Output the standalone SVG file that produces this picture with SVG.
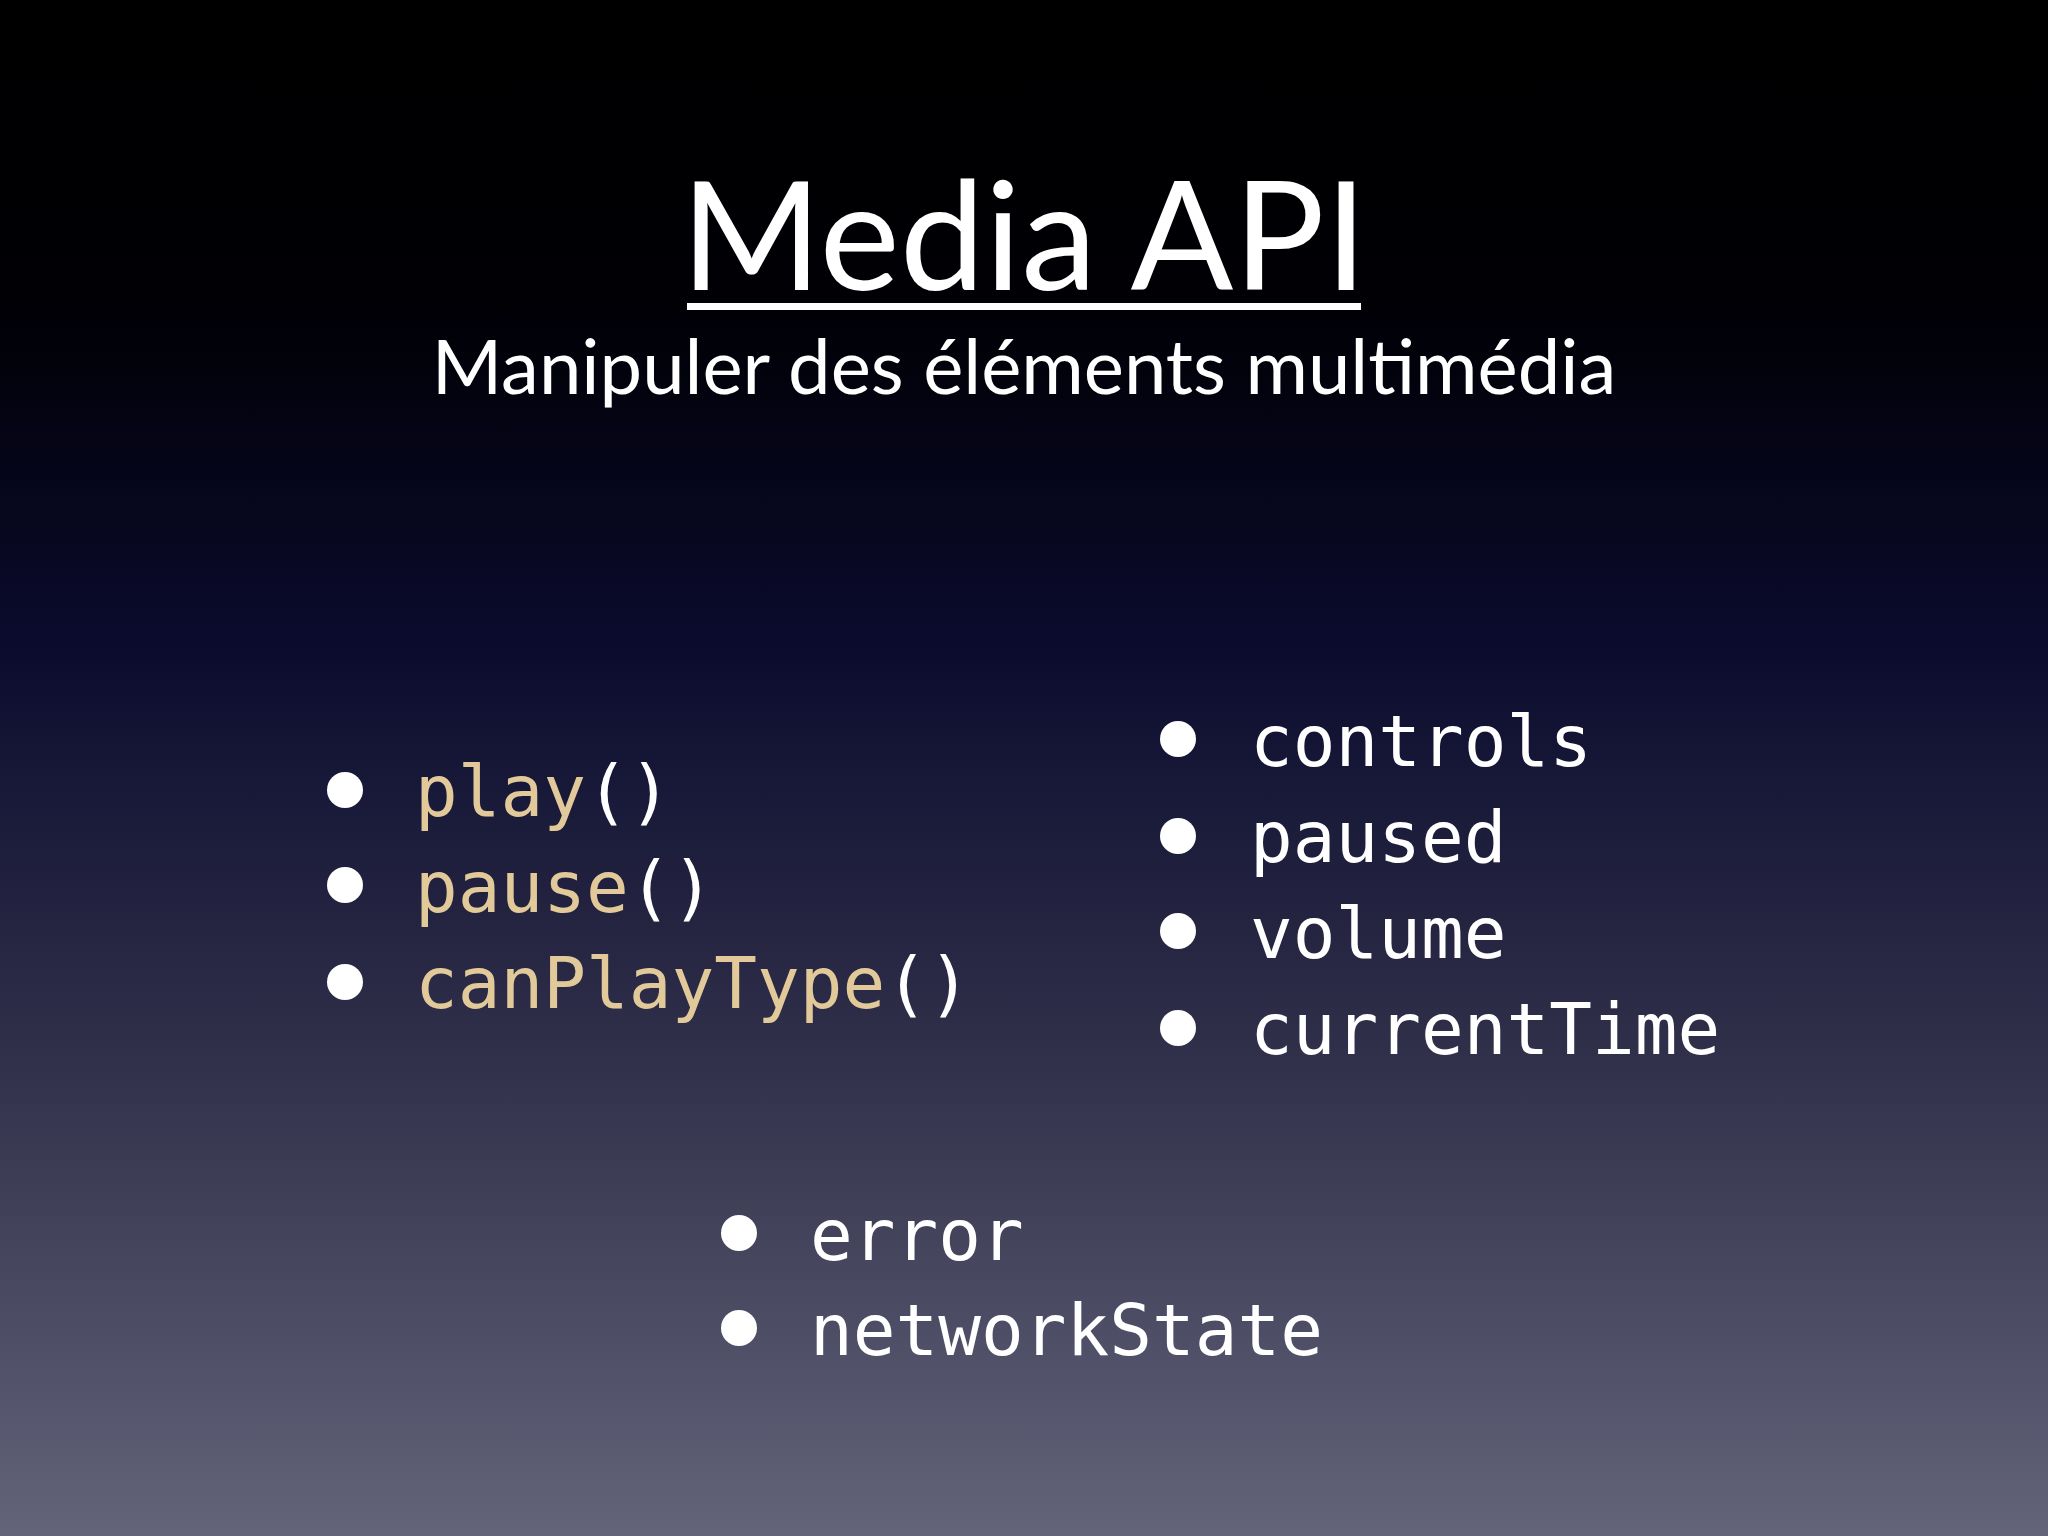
<svg xmlns="http://www.w3.org/2000/svg" width="2048" height="1536" viewBox="0 0 2048 1536">
<defs>
<linearGradient id="bg" x1="0" y1="0" x2="0" y2="1">
<stop offset="0" stop-color="#000000"/>
<stop offset="0.2" stop-color="#000005"/>
<stop offset="0.42" stop-color="#0b0b2e"/>
<stop offset="0.7" stop-color="#32324c"/>
<stop offset="1" stop-color="#63637a"/>
</linearGradient>
</defs>
<style>
.t{font-family:"Lato","Open Sans",sans-serif;fill:#fff}
.m{font-family:"DejaVu Sans Mono","Liberation Mono",monospace;font-size:71px;fill:#fff}
.g{fill:#e2c99a}
.b{fill:#fff}
</style>
<rect width="2048" height="1536" fill="url(#bg)"/>
<g id="title">
<text class="t" x="1024" y="290" font-size="152" text-anchor="middle">Media API</text>
<rect x="687" y="303" width="674" height="7" fill="#fff"/>
<text class="t" x="1024" y="394" font-size="76" text-anchor="middle">Manipuler des éléments multimédia</text>
</g>
<g id="methods">
<circle class="b" cx="345" cy="790" r="18"/><text class="m g" x="415" y="816">play<tspan fill="#fff">()</tspan></text>
<circle class="b" cx="345" cy="885" r="18"/><text class="m g" x="415" y="912">pause<tspan fill="#fff">()</tspan></text>
<circle class="b" cx="345" cy="982" r="18"/><text class="m g" x="415" y="1008">canPlayType<tspan fill="#fff">()</tspan></text>
</g>
<g id="props">
<circle class="b" cx="1178" cy="739" r="18"/><text class="m" x="1250" y="766">controls</text>
<circle class="b" cx="1178" cy="836" r="18"/><text class="m" x="1250" y="862">paused</text>
<circle class="b" cx="1178" cy="931" r="18"/><text class="m" x="1250" y="958">volume</text>
<circle class="b" cx="1178" cy="1028" r="18"/><text class="m" x="1250" y="1054">currentTime</text>
</g>
<g id="state">
<circle class="b" cx="739" cy="1233" r="18"/><text class="m" x="810" y="1260">error</text>
<circle class="b" cx="739" cy="1328" r="18"/><text class="m" x="810" y="1355">networkState</text>
</g>
<g id="connectors"/>
</svg>
